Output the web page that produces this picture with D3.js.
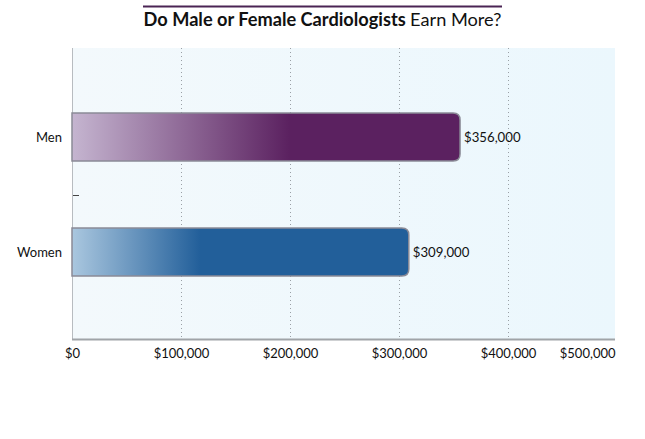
<!DOCTYPE html>
<html><head><meta charset="utf-8">
<script src="https://cdn.jsdelivr.net/npm/d3@7"></script>
<style>body{margin:0;background:#fff;} svg{display:block;font-family:Lato,"Open Sans",sans-serif;}</style>
</head><body>
<svg id="c" width="645" height="439"></svg>
<script>
const categories = ["Men", "Women"];
const values = [356000, 309000];
const valueLabels = ["$356,000", "$309,000"];
const xTicks = [0, 100000, 200000, 300000, 400000, 500000];
const xTickLabels = ["$0", "$100,000", "$200,000", "$300,000", "$400,000", "$500,000"];

const svg = d3.select("#c");
const L = 72, R = 617, T = 48, B = 339;
const x = d3.scaleLinear().domain([0, 500000]).range([L, R]);
const y = d3.scaleBand().domain(categories).range([79.5, 309.5]);
const barH = 48;

const defs = svg.append("defs");
const bg = defs.append("linearGradient").attr("id", "bg").attr("x1", 0).attr("x2", 1).attr("y1", 0).attr("y2", 0);
bg.append("stop").attr("offset", 0).attr("stop-color", "#f3f9fc");
bg.append("stop").attr("offset", 1).attr("stop-color", "#ebf7fd");

const grads = [
  {id: "gm", c0: "#c5b5d0", c1: "#5b2160", stop: 0.56},
  {id: "gw", c0: "#aac7df", c1: "#225f9a", stop: 0.38}
];
grads.forEach(g => {
  const lg = defs.append("linearGradient").attr("id", g.id).attr("x1", 0).attr("x2", 1).attr("y1", 0).attr("y2", 0);
  lg.append("stop").attr("offset", 0).attr("stop-color", g.c0);
  lg.append("stop").attr("offset", g.stop).attr("stop-color", g.c1);
  lg.append("stop").attr("offset", 1).attr("stop-color", g.c1);
});

const plotRight = 615;
svg.append("rect").attr("x", L).attr("y", T).attr("width", plotRight - L).attr("height", B - T).attr("fill", "url(#bg)");

// gridlines
svg.append("g").selectAll("line").data(xTicks.slice(1, 5)).join("line")
  .attr("x1", d => Math.round(x(d)) + 0.5).attr("x2", d => Math.round(x(d)) + 0.5)
  .attr("y1", T).attr("y2", B)
  .attr("stroke", "#9aa0a6").attr("stroke-width", 1).attr("stroke-dasharray", "1,3");

// left axis line
svg.append("line").attr("x1", L + 0.5).attr("x2", L + 0.5).attr("y1", T).attr("y2", B)
  .attr("stroke", "#b8bcc0").attr("stroke-width", 1);
// small tick between categories
const mid = (y("Men") + y("Women")) / 2 + y.bandwidth() / 2;
svg.append("line").attr("x1", L + 1).attr("x2", L + 7).attr("y1", Math.round(mid) + 0.5).attr("y2", Math.round(mid) + 0.5)
  .attr("stroke", "#444").attr("stroke-width", 1);

// bars
function barPath(x0, x1, y0, h, r) {
  return `M${x0},${y0}H${x1 - r}Q${x1},${y0} ${x1},${y0 + r}V${y0 + h - r}Q${x1},${y0 + h} ${x1 - r},${y0 + h}H${x0}Z`;
}
const gIds = ["gm", "gw"];
svg.append("g").selectAll("path").data(categories).join("path")
  .attr("d", (d, i) => barPath(L, x(values[i]), y(d) + y.bandwidth() / 2 - barH / 2, barH, 7))
  .attr("fill", (d, i) => `url(#${gIds[i]})`)
  .attr("stroke", "#8a8a96").attr("stroke-width", 1.5);

// value labels
svg.append("g").selectAll("text").data(categories).join("text")
  .attr("x", (d, i) => x(values[i]) + 4)
  .attr("y", d => y(d) + y.bandwidth() / 2 + 4.5)
  .attr("font-size", 13.2).attr("fill", "#111")
  .text((d, i) => valueLabels[i]);

// category labels
svg.append("g").selectAll("text").data(categories).join("text")
  .attr("x", 62).attr("y", d => y(d) + y.bandwidth() / 2 + 4.5)
  .attr("text-anchor", "end").attr("font-size", 13).attr("fill", "#111")
  .text(d => d);

// bottom axis
const xAxis = d3.axisBottom(x).tickValues(xTicks).tickSize(0).tickFormat((d, i) => xTickLabels[i]);
const ax = svg.append("g").attr("transform", `translate(0,${B})`).call(xAxis);
ax.select(".domain").attr("d", `M${L},0.5H${plotRight}`).attr("stroke", "#a0a4a8").attr("stroke-width", 2);
ax.selectAll("text").attr("font-size", 13).attr("fill", "#111").attr("font-family", "Lato,sans-serif").attr("dy", "1.2em");
ax.selectAll(".tick").filter(d => d === 500000).select("text").attr("text-anchor", "end").attr("dx", "-2");

// title
svg.append("line").attr("x1", 143).attr("x2", 502).attr("y1", 6.5).attr("y2", 6.5).attr("stroke", "#4b2454").attr("stroke-width", 2);
const t = svg.append("text").attr("x", 322.5).attr("y", 26).attr("text-anchor", "middle").attr("font-size", 18.2).attr("fill", "#111");
t.append("tspan").attr("font-weight", "bold").text("Do Male or Female Cardiologists ");
t.append("tspan").text("Earn More?");
</script>
</body></html>
